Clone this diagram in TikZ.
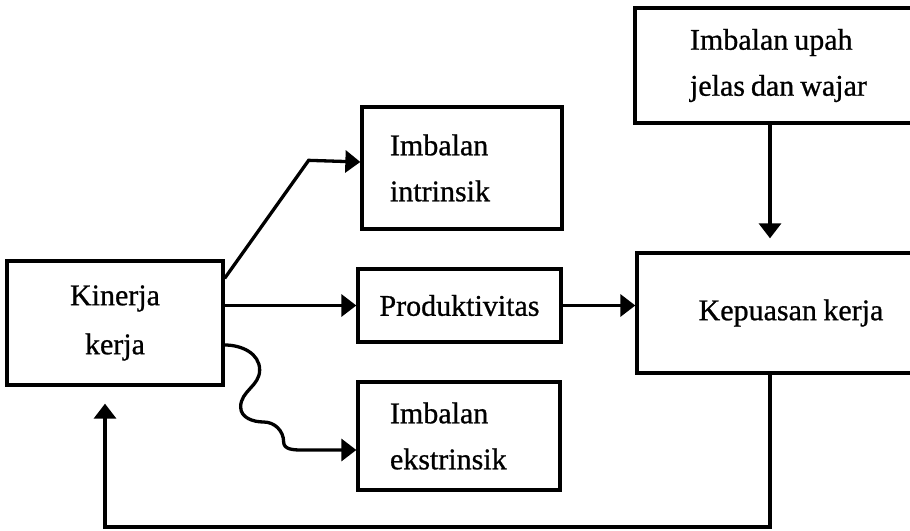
\documentclass[tikz,border=0pt]{standalone}
\usepackage{fontspec}
\setmainfont{Liberation Serif}[RawFeature={embolden=0.8}]
\usetikzlibrary{arrows.meta}

\begin{document}
\begin{tikzpicture}[x=1pt,y=1pt,
    box/.style={draw,line width=3.3pt,inner sep=0pt,font=\fontsize{30}{46}\selectfont},
    arr/.style={line width=3.3pt,-{Triangle[length=15pt,width=22pt]}}]
  % page frame
  \clip (0,0) rectangle (910,530);

  % Draw boxes
  \node[box,minimum width=216,minimum height=124,align=center] (kin) at (115,207) {\raisebox{-6pt}{Kinerja}\\[3pt]\raisebox{-6pt}{kerja}};
  \node[box,text width=144pt,inner xsep=28pt,minimum height=122,align=left] (intr) at (462,362) {Imbalan\\intrinsik};
  \node[box,minimum width=203,minimum height=73] (prod) at (459.5,224.5) {Produktivitas};
  \node[box,text width=138pt,inner xsep=32pt,minimum height=108,align=left] (ekst) at (459,94) {Imbalan\\ekstrinsik};
  \node[box,text width=200pt,inner xsep=55pt,minimum height=115,align=left] (upah) at (790,464.5) {\spaceskip=.2em Imbalan upah\\jelas dan wajar};
  \node[box,minimum width=308,minimum height=120] (puas) at (791,217) {Kepuasan\hspace{-1pt} kerja};

  % Draw connectors
  \coordinate (fbr) at (770,3);
  \coordinate (fbl) at (105,3);
  \draw[arr] ([yshift=-19pt]kin.north east) -- ++(84,118) -- ([yshift=6pt]intr.west);
  \draw[arr] (kin.east |- prod.west) -- (prod.west);
  \draw[arr] ([yshift=-22pt]kin.east) to[out=0,in=90] ++(35,-25) to[out=-90,in=90] ++(-19,-37)
    to[out=-90,in=180] ++(23,-15) to[out=0,in=90] ++(20,-20) to[out=-90,in=180] ++(18,-8)
    -- ([yshift=-14pt]ekst.west);
  \draw[arr] (prod.east) -- (prod.east -| puas.west);
  \draw[arr] (upah.south -| fbr) -- ([yshift=13pt]puas.north -| fbr);
  \draw[arr] (puas.south -| fbr) -- (fbr) -- (fbl) -- ([yshift=-17pt]kin.south -| fbl);
\end{tikzpicture}
\end{document}
